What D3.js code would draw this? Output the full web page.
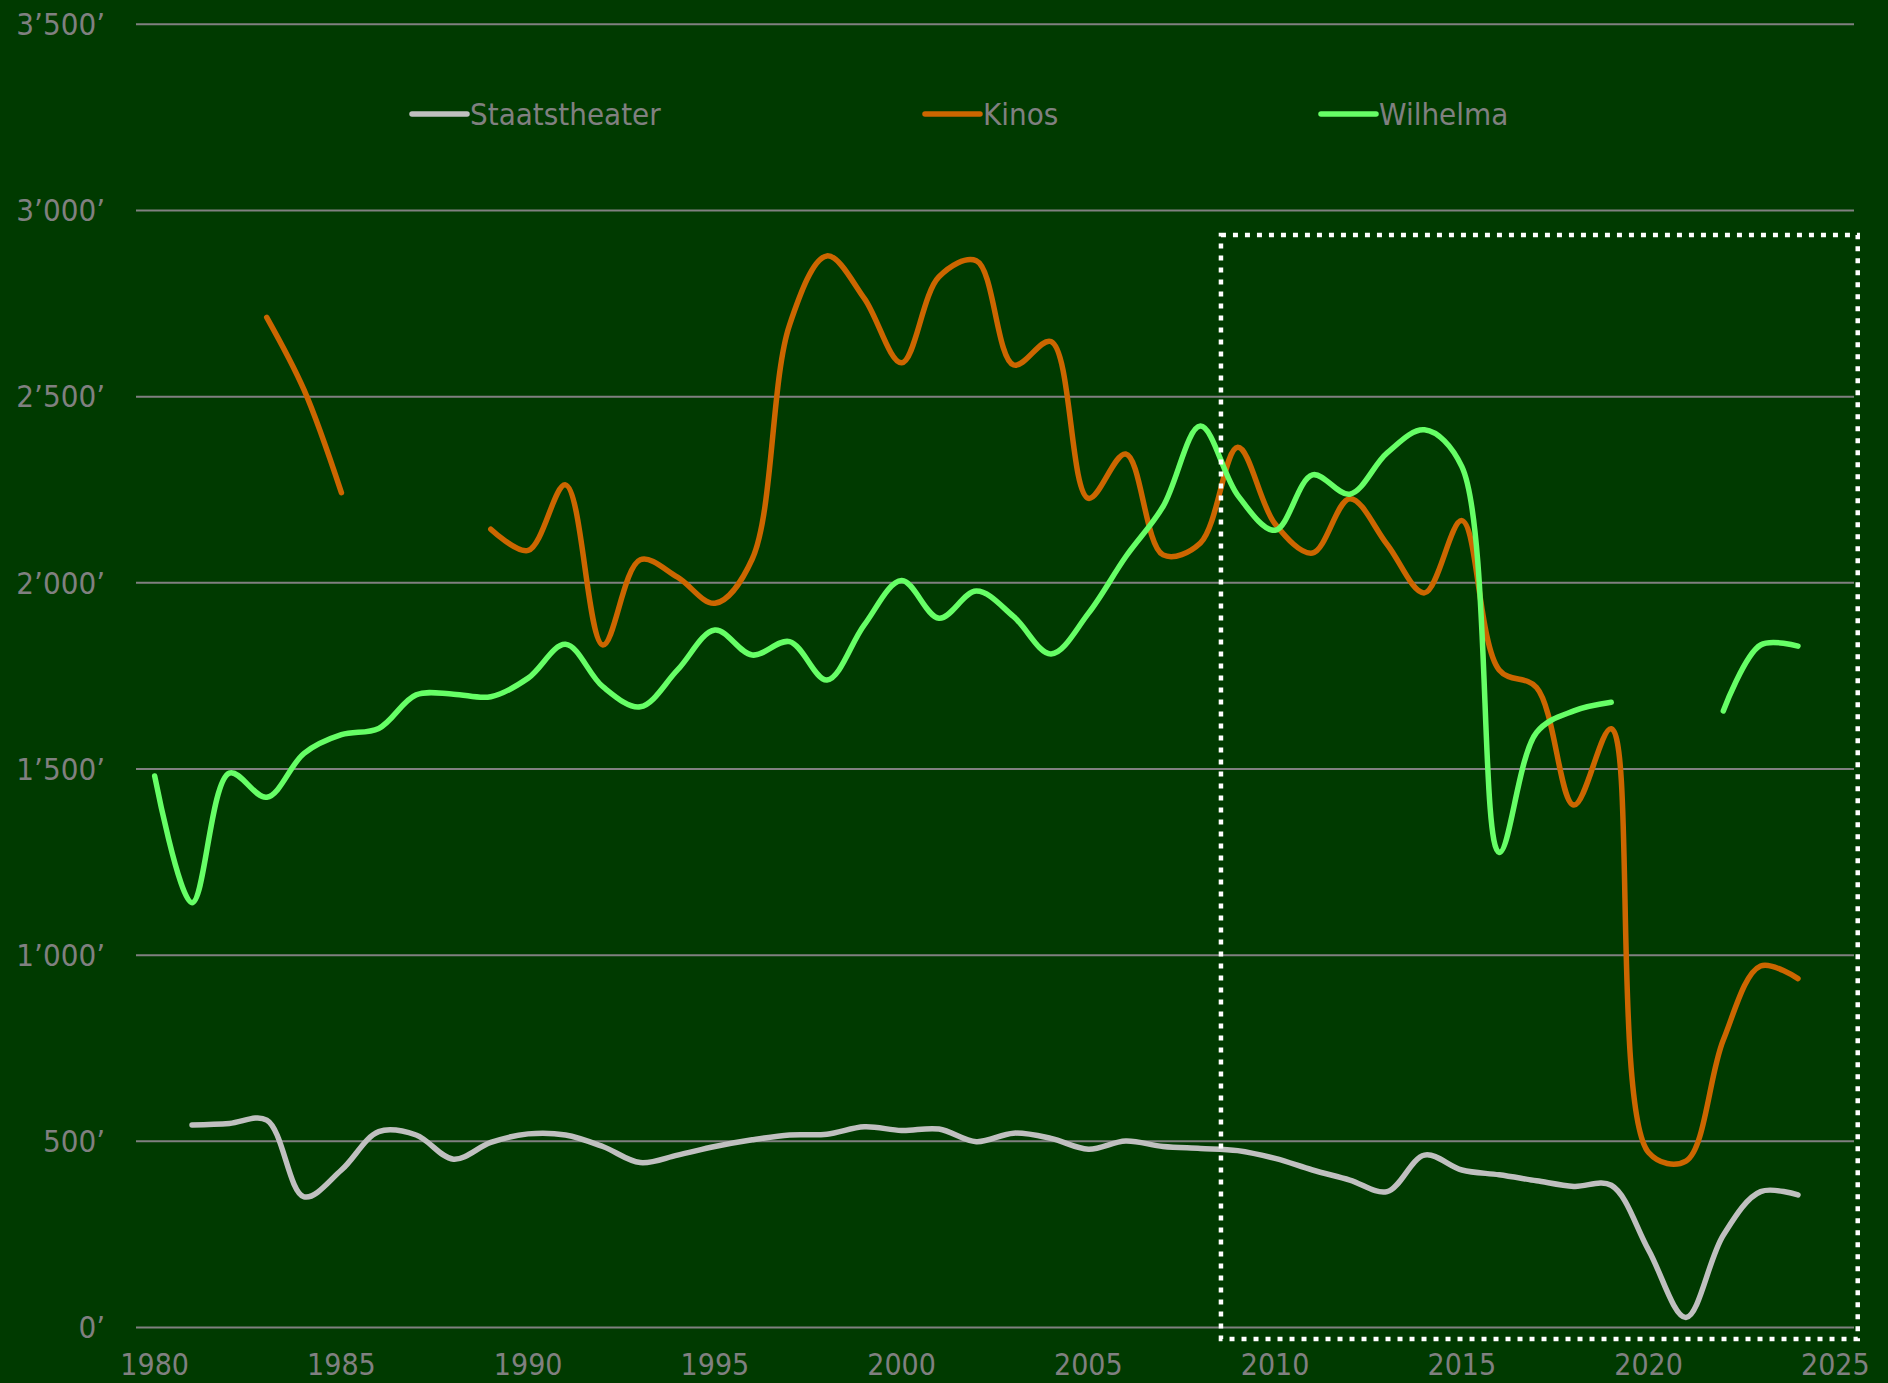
<!DOCTYPE html>
<html>
<head>
<meta charset="utf-8">
<script src="https://cdn.jsdelivr.net/npm/d3@7"></script>
<style>
  html, body { margin: 0; padding: 0; background: #003a00; }
  #chart { width: 1888px; height: 1383px; }
</style>
</head>
<body>
<div id="chart"></div>
<script>

// data
var years = d3.range(1980, 2025);   // 1980 .. 2024

var staatstheater = [null, 544, 548, 557, 351, 423, 526, 517, 452, 497,
                     520, 517, 486, 443, 463, 486, 504, 517, 519, 539,
                     529, 533, 499, 522, 508, 479, 501, 486, 481, 475,
                     454, 423, 396, 365, 463, 423, 410, 394, 379, 382,
                     208, 27, 248, 365, 356];

var kinos = [null, null, null, 2713, 2518, 2242, null, null, null, 2144,
             2087, 2263, 1833, 2062, 2015, 1945, 2064, 2693, 2878, 2764,
             2591, 2822, 2865, 2585, 2648, 2227, 2346, 2075, 2107, 2364,
             2158, 2080, 2226, 2103, 1973, 2167, 1766, 1719, 1403, 1608,
             470, 447, 772, 971, 937];

var wilhelma = [1481, 1141, 1489, 1424, 1542, 1592, 1609, 1699, 1701, 1694,
                1744, 1835, 1721, 1667, 1766, 1873, 1806, 1842, 1739, 1887,
                2006, 1905, 1978, 1909, 1809, 1918, 2070, 2205, 2421, 2235,
                2141, 2290, 2238, 2349, 2411, 2312, 1276, 1598, 1656, 1679,
                null, null, 1656, 1833, 1830];

var seriesNames = ['Staatstheater', 'Kinos', 'Wilhelma'];
var yTicks = [0, 500, 1000, 1500, 2000, 2500, 3000, 3500];
var xTicks = [1980, 1985, 1990, 1995, 2000, 2005, 2010, 2015, 2020, 2025];

// dotted box around 2009 onwards (in data units)
var highlight = { x0: 2008.55, x1: 2025.6, y0: -31, y1: 2934 };


function renderLineChart(params) {
    var attrs = {
        svgWidth: 1888,
        svgHeight: 1383,
        plotLeft: 136,
        plotRight: 1854,
        plotTop: 24.3,
        plotBottom: 1327.5,
        background: '#003a00',
        gridColor: '#808080',
        textColor: '#808080',
        fontFamily: '"DejaVu Sans Condensed", "DejaVu Sans", sans-serif',
        fontSize: 30,
        colors: ['#c0c0c0', '#cc6600', '#66ff66'],
        legendX: [412, 925, 1321],
        legendY: 114
    };

    Object.keys(attrs).forEach(function (key) {
        if (params && params[key]) attrs[key] = params[key];
    });

    var main = function (selection) {
        selection.each(function () {

            var svg = d3.select(this)
                .append('svg')
                .attr('width', attrs.svgWidth)
                .attr('height', attrs.svgHeight)
                .style('font-family', attrs.fontFamily);

            svg.append('rect')
                .attr('width', attrs.svgWidth)
                .attr('height', attrs.svgHeight)
                .attr('fill', attrs.background);

            var x = d3.scaleLinear()
                .domain([1979.5, 2025.5])
                .range([attrs.plotLeft, attrs.plotRight]);

            var y = d3.scaleLinear()
                .domain([0, 3500])
                .range([attrs.plotBottom, attrs.plotTop]);

            var fmt = function (v) {
                return d3.format(',')(v).replace(/,/g, '\u2019') + '\u2019';
            };

            // gridlines
            svg.append('g')
                .selectAll('line')
                .data(yTicks)
                .enter()
                .append('line')
                .attr('x1', attrs.plotLeft)
                .attr('x2', attrs.plotRight)
                .attr('y1', function (d) { return y(d); })
                .attr('y2', function (d) { return y(d); })
                .attr('stroke', attrs.gridColor)
                .attr('stroke-width', 2);

            // y labels
            svg.append('g')
                .selectAll('text')
                .data(yTicks)
                .enter()
                .append('text')
                .attr('x', 105)
                .attr('y', function (d) { return y(d); })
                .attr('dy', '0.35em')
                .attr('text-anchor', 'end')
                .attr('fill', attrs.textColor)
                .style('font-size', '31px')
                .text(fmt);

            // x labels
            svg.append('g')
                .selectAll('text')
                .data(xTicks)
                .enter()
                .append('text')
                .attr('x', function (d) { return x(d); })
                .attr('y', 1375)
                .attr('text-anchor', 'middle')
                .attr('fill', attrs.textColor)
                .style('font-size', attrs.fontSize + 'px')
                .text(function (d) { return d; });

            // excel-like smoothing, centripetal keeps sharp turns from overshooting
            var line = d3.line()
                .defined(function (d) { return d.value != null; })
                .x(function (d) { return x(d.year); })
                .y(function (d) { return y(d.value); })
                .curve(d3.curveCatmullRom.alpha(0.5));

            var series = [staatstheater, kinos, wilhelma].map(function (vals, i) {
                return {
                    name: seriesNames[i],
                    color: attrs.colors[i],
                    points: years.map(function (yr, j) { return { year: yr, value: vals[j] }; })
                };
            });

            svg.append('g')
                .selectAll('path')
                .data(series)
                .enter()
                .append('path')
                .attr('d', function (d) { return line(d.points); })
                .attr('fill', 'none')
                .attr('stroke', function (d) { return d.color; })
                .attr('stroke-width', 5.5)
                .attr('stroke-linecap', 'round')
                .attr('stroke-linejoin', 'round');

            // dotted highlight box
            svg.append('rect')
                .attr('x', x(highlight.x0))
                .attr('y', y(highlight.y1))
                .attr('width', x(highlight.x1) - x(highlight.x0))
                .attr('height', y(highlight.y0) - y(highlight.y1))
                .attr('fill', 'none')
                .attr('stroke', '#ffffff')
                .attr('stroke-width', 4.5)
                .attr('stroke-dasharray', '5,7');

            // legend
            var legend = svg.append('g')
                .selectAll('g')
                .data(series)
                .enter()
                .append('g')
                .attr('transform', function (d, i) {
                    return 'translate(' + attrs.legendX[i] + ',' + attrs.legendY + ')';
                });

            legend.append('line')
                .attr('x1', 0)
                .attr('x2', 55)
                .attr('stroke', function (d) { return d.color; })
                .attr('stroke-width', 5.5)
                .attr('stroke-linecap', 'round');

            legend.append('text')
                .attr('x', 58)
                .attr('dy', '0.35em')
                .attr('fill', attrs.textColor)
                .style('font-size', '31px')
                .text(function (d) { return d.name; });
        });
    };

    return main;
}

d3.select('#chart').call(renderLineChart());

</script>
</body>
</html>
